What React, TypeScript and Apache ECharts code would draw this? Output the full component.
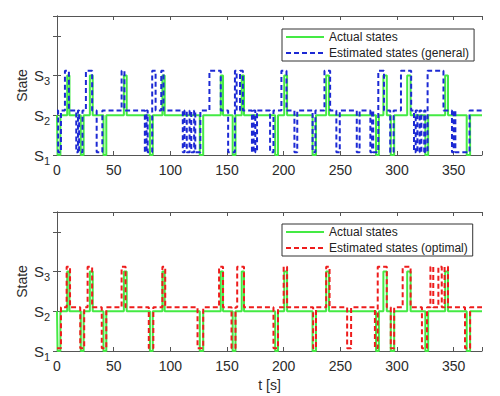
import React, { useEffect, useRef } from 'react';
import * as echarts from 'echarts';

// [time (s), state]
const actualStates: [number, number][] = [
  [0, 2], [0.5, 1], [3, 2], [9, 3], [11, 2], [21, 1], [23.5, 2], [29, 3], [31.5, 2],
  [41, 1], [43.5, 2], [59, 3], [61.5, 2], [82, 1], [84.5, 2], [93, 3], [95, 2],
  [126, 1], [129, 2], [144.5, 3], [146.5, 2], [155, 1], [157.5, 2], [163, 3], [165, 2],
  [192.5, 1], [195, 2], [200.5, 3], [203, 2], [225.5, 1], [228.5, 2], [237.5, 3], [240, 2],
  [281.5, 1], [284, 2], [288, 3], [291, 2], [294.5, 1], [297.5, 2], [309, 3], [312, 2],
  [325, 1], [327.5, 2], [342.5, 3], [345, 2], [361.5, 1], [364.5, 2], [375, 2],
];

const estimatedGeneral: [number, number][] = [
  [0, 2.12], [1, 1.07], [3.5, 2.12], [7, 3.12], [10.5, 2.12], [17, 1.07], [18.5, 2.12],
  [19.5, 1.07], [22.5, 2.12], [25.5, 3.12], [31, 2.12], [35, 1.07], [40, 2.12],
  [57, 3.12], [59.5, 2.12], [77.5, 1.07], [79, 2.12], [80, 1.07], [84, 3.12], [87, 2.12],
  [92, 3.12], [94, 2.12], [111, 1.07], [112.5, 2.12], [114.5, 1.07], [117, 2.12],
  [118.5, 1.07], [121, 2.12], [122, 1.07], [126.5, 2.12], [134.5, 3.12], [144.5, 2.12],
  [151, 1.07], [157, 3.12], [158.5, 2.12], [161.5, 3.12], [164, 2.12], [172, 1.07],
  [173.5, 2.12], [175, 1.07], [176.5, 2.12], [188, 1.07], [191, 2.12], [198, 3.12],
  [202.5, 2.12], [209.5, 1.07], [212, 2.12], [225.5, 1.07], [228, 2.12], [236, 3.12],
  [241, 2.12], [246.5, 1.07], [249.5, 2.12], [264.5, 1.07], [267, 2.12], [276.5, 1.07],
  [278, 2.12], [279, 1.07], [283.5, 3.12], [288.5, 2.12], [294, 1.07], [297, 2.12],
  [303.5, 3.12], [312.5, 2.12], [315, 1.07], [316.5, 2.12], [318, 1.07], [320, 2.12],
  [321.5, 1.07], [324, 2.12], [325, 1.07], [327, 3.12], [341, 2.12], [348.5, 1.07],
  [350, 2.12], [351.5, 1.07], [364, 2.12], [375, 2.12],
];

const estimatedOptimal: [number, number][] = [
  [0, 1.07], [3.5, 2.1], [8.5, 3.12], [11.5, 2.1], [20.5, 1.07], [24, 2.1], [27, 3.12],
  [31, 2.1], [39.5, 1.07], [43.5, 2.1], [57, 3.12], [60.5, 2.1], [81, 1.07], [85, 2.1],
  [93, 3.12], [95.5, 2.1], [124, 1.07], [129, 2.1], [143, 3.12], [146.5, 2.1], [154, 1.07],
  [157.5, 2.1], [159, 3.12], [165, 2.1], [191, 1.07], [195, 2.1], [200, 3.12], [203, 2.1],
  [226, 1.07], [228.5, 2.1], [237.5, 3.12], [240.5, 2.1], [256, 1.07], [259.5, 2.1],
  [280.5, 1.07], [283, 3.12], [291, 2.1], [294.5, 1.07], [297.5, 2.1], [305, 3.12],
  [312, 2.1], [322, 1.07], [326.5, 2.1], [329.5, 3.12], [332, 2.1], [336.5, 3.12],
  [339.5, 2.1], [342, 3.12], [345, 2.1], [360, 1.07], [364.5, 2.1], [375, 2.1],
];

const stateTickLabels: Record<number, string> = { 1: '1', 2: '2', 3: '3' };
const xTickStep = 50;
const seriesNames = ['Actual states', 'Estimated states (general)', 'Estimated states (optimal)'];

const FONT = '"Liberation Sans", Arial, Helvetica, sans-serif';
const AXIS_COLOR = '#555';
const TEXT_COLOR = '#2b2b2b';
const GREEN = '#44ea44';
const BLUE = '#1c29d4';
const RED = '#ee1c1c';

export default function App() {
  const ref = useRef<HTMLDivElement>(null);

  useEffect(() => {
    if (!ref.current) return;
    const chart = echarts.init(ref.current, null, { renderer: 'svg' });

    const grids = [
      { left: 57, top: 16, width: 425, height: 139 },
      { left: 57, top: 212, width: 425, height: 139 },
    ];

    const xMain = (gi: number, withName: boolean) => ({
      type: 'value',
      gridIndex: gi,
      position: 'bottom',
      min: 0,
      max: 375,
      interval: xTickStep,
      name: withName ? 't [s]' : '',
      nameLocation: 'middle',
      nameGap: 27,
      nameTextStyle: { fontFamily: FONT, fontSize: 14, color: TEXT_COLOR },
      axisLine: { show: true, lineStyle: { color: AXIS_COLOR, width: 1 } },
      axisTick: { show: true, inside: true, length: 4, lineStyle: { color: AXIS_COLOR } },
      axisLabel: {
        fontFamily: FONT,
        fontSize: 14,
        color: TEXT_COLOR,
        margin: 8,
        formatter: (v: number) => (v % xTickStep === 0 ? String(v) : ''),
      },
      splitLine: { show: false },
    });
    const xTop = (gi: number) => ({
      type: 'value',
      gridIndex: gi,
      position: 'top',
      min: 0,
      max: 375,
      interval: xTickStep,
      axisLine: { show: true, lineStyle: { color: AXIS_COLOR, width: 1 } },
      axisTick: { show: true, inside: true, length: 4, lineStyle: { color: AXIS_COLOR } },
      axisLabel: { show: false },
      splitLine: { show: false },
    });
    const yMain = (gi: number) => ({
      type: 'value',
      gridIndex: gi,
      position: 'left',
      min: 1,
      max: 4.5,
      interval: 1,
      axisLine: { show: true, lineStyle: { color: AXIS_COLOR, width: 1 } },
      axisTick: { show: true, inside: true, length: 4, lineStyle: { color: AXIS_COLOR } },
      axisLabel: {
        margin: 7,
        formatter: (v: number) => (stateTickLabels[v] ? `{s|S}{sub|${stateTickLabels[v]}}` : ''),
        rich: {
          s: { fontFamily: FONT, fontSize: 15, color: TEXT_COLOR, lineHeight: 22 },
          sub: { fontFamily: FONT, fontSize: 11, color: TEXT_COLOR, lineHeight: 11, verticalAlign: 'bottom' },
        },
      },
      splitLine: { show: false },
    });
    const yRight = (gi: number) => ({
      type: 'value',
      gridIndex: gi,
      position: 'right',
      min: 1,
      max: 4.5,
      interval: 1,
      axisLine: { show: true, lineStyle: { color: AXIS_COLOR, width: 1 } },
      axisTick: { show: true, inside: true, length: 4, lineStyle: { color: AXIS_COLOR } },
      axisLabel: { show: false },
      splitLine: { show: false },
    });

    const legendBase = {
      orient: 'vertical',
      left: 282,
      itemWidth: 38,
      itemHeight: 14,
      itemGap: 4,
      padding: [2, 5, 2, 3],
      borderColor: '#333',
      borderWidth: 1,
      borderRadius: 0,
      backgroundColor: '#fff',
      itemStyle: { opacity: 0 },
      textStyle: { fontFamily: FONT, fontSize: 12, color: '#222' },
      selectedMode: false,
    };

    const yTitle = (cy: number) => ({
      type: 'text',
      x: 22,
      y: cy,
      rotation: Math.PI / 2,
      style: {
        text: 'State',
        fontFamily: FONT,
        fontSize: 14,
        fill: TEXT_COLOR,
        align: 'center',
        verticalAlign: 'middle',
      },
    });

    chart.setOption({
      animation: false,
      backgroundColor: '#fff',
      grid: grids,
      xAxis: [xMain(0, false), xTop(0), xMain(1, true), xTop(1)],
      yAxis: [yMain(0), yRight(0), yMain(1), yRight(1)],
      legend: [
        { ...legendBase, top: 29, data: [seriesNames[0], seriesNames[1]] },
        { ...legendBase, top: 224, data: [seriesNames[0], seriesNames[2]] },
      ],
      graphic: [yTitle(16 + 139 / 2), yTitle(212 + 139 / 2)],
      series: [
        {
          name: seriesNames[0], type: 'line', step: 'end', xAxisIndex: 0, yAxisIndex: 0,
          data: actualStates, symbol: 'none', lineStyle: { color: GREEN, width: 2 }, itemStyle: { color: GREEN },
        },
        {
          name: seriesNames[1], type: 'line', step: 'end', xAxisIndex: 0, yAxisIndex: 0,
          data: estimatedGeneral, symbol: 'none', lineStyle: { color: BLUE, width: 2, type: [5, 3] }, itemStyle: { color: BLUE },
        },
        {
          name: seriesNames[0], type: 'line', step: 'end', xAxisIndex: 2, yAxisIndex: 2,
          data: actualStates, symbol: 'none', lineStyle: { color: GREEN, width: 2 }, itemStyle: { color: GREEN },
        },
        {
          name: seriesNames[2], type: 'line', step: 'end', xAxisIndex: 2, yAxisIndex: 2,
          data: estimatedOptimal, symbol: 'none', lineStyle: { color: RED, width: 2, type: [5, 3] }, itemStyle: { color: RED },
        },
      ],
    });

    return () => chart.dispose();
  }, []);

  return <div ref={ref} style={{ position: 'absolute', left: 0, top: 0, width: 500, height: 396 }} />;
}
